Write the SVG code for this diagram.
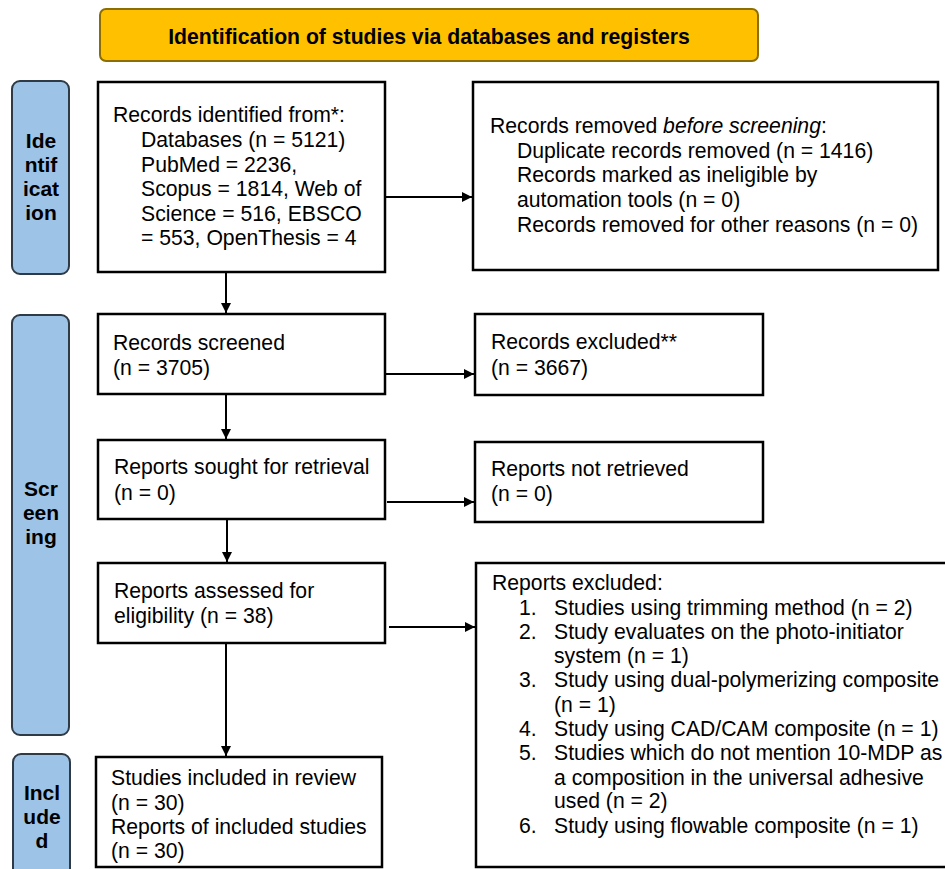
<svg xmlns="http://www.w3.org/2000/svg" width="945" height="869" viewBox="0 0 945 869">
<style>
.box{fill:#fff;stroke:#000;stroke-width:2.5}
.phase{fill:#9DC3E6;stroke:#2e3a46;stroke-width:2}
.t{font-family:"Liberation Sans",Arial,sans-serif;font-size:21.2px;fill:#000}
.pt{font-family:"Liberation Sans",Arial,sans-serif;font-size:21px;font-weight:bold;fill:#000;text-anchor:middle}
.ln{stroke:#000;stroke-width:2;fill:none}
</style>
<defs>
<marker id="ah" viewBox="0 0 10 10" refX="10" refY="5" markerWidth="10" markerHeight="10" markerUnits="userSpaceOnUse" orient="auto">
<path d="M0,0 L10,5 L0,10 z" fill="#000"/>
</marker>
</defs>
<rect width="945" height="869" fill="#fff"/>

<g id="banner">
<rect x="100" y="9" width="658" height="52" rx="6" fill="#FFC000" stroke="#8C6D00" stroke-width="2"/>
<text x="429" y="44" class="pt" style="font-size:21.2px">Identification of studies via databases and registers</text>
</g>

<g id="phase-identification">
<rect class="phase" x="12" y="81" width="57" height="193" rx="8"/>
<text class="pt"><tspan x="41" y="148">Ide</tspan><tspan x="41" y="172">ntif</tspan><tspan x="41" y="196">icat</tspan><tspan x="41" y="220">ion</tspan></text>
</g>
<g id="phase-screening">
<rect class="phase" x="12" y="315" width="57" height="420" rx="8"/>
<text class="pt"><tspan x="41" y="496">Scr</tspan><tspan x="41" y="520">een</tspan><tspan x="41" y="544">ing</tspan></text>
</g>
<g id="phase-included">
<rect class="phase" x="13" y="754" width="57" height="130" rx="8"/>
<text class="pt"><tspan x="42" y="800">Incl</tspan><tspan x="42" y="824">ude</tspan><tspan x="42" y="848">d</tspan></text>
</g>

<g id="records-identified">
<rect class="box" x="98" y="82" width="287" height="190"/>
<text class="t"><tspan x="113" y="122">Records identified from*:</tspan><tspan x="141" y="147">Databases (n = 5121)</tspan><tspan x="141" y="172">PubMed = 2236,</tspan><tspan x="141" y="196">Scopus = 1814, Web of</tspan><tspan x="141" y="221">Science = 516, EBSCO</tspan><tspan x="141" y="245">= 553, OpenThesis = 4</tspan></text>
</g>

<g id="records-removed">
<rect class="box" x="473" y="82" width="465" height="188"/>
<text class="t"><tspan x="490" y="133">Records removed <tspan font-style="italic">before screening</tspan>:</tspan><tspan x="517" y="158">Duplicate records removed (n = 1416)</tspan><tspan x="517" y="182">Records marked as ineligible by</tspan><tspan x="517" y="207">automation tools (n = 0)</tspan><tspan x="517" y="232">Records removed for other reasons (n = 0)</tspan></text>
</g>

<g id="records-screened">
<rect class="box" x="98" y="314" width="287" height="80"/>
<text class="t"><tspan x="113" y="350">Records screened</tspan><tspan x="113" y="375">(n = 3705)</tspan></text>
</g>

<g id="records-excluded">
<rect class="box" x="475" y="314" width="288" height="81"/>
<text class="t"><tspan x="491" y="349">Records excluded**</tspan><tspan x="491" y="375">(n = 3667)</tspan></text>
</g>

<g id="reports-sought">
<rect class="box" x="98" y="440" width="287" height="79"/>
<text class="t"><tspan x="114" y="474">Reports sought for retrieval</tspan><tspan x="114" y="500">(n = 0)</tspan></text>
</g>

<g id="reports-not-retrieved">
<rect class="box" x="475" y="442" width="288" height="80"/>
<text class="t"><tspan x="491" y="476">Reports not retrieved</tspan><tspan x="491" y="501">(n = 0)</tspan></text>
</g>

<g id="reports-assessed">
<rect class="box" x="98" y="563" width="287" height="80"/>
<text class="t"><tspan x="114" y="598">Reports assessed for</tspan><tspan x="114" y="623">eligibility (n = 38)</tspan></text>
</g>

<g id="reports-excluded">
<rect class="box" x="476" y="563" width="480" height="304"/>
<text class="t"><tspan x="492" y="590">Reports excluded:</tspan>
<tspan x="519" y="615">1.</tspan><tspan x="554" y="615">Studies using trimming method (n = 2)</tspan>
<tspan x="519" y="639">2.</tspan><tspan x="554" y="639">Study evaluates on the photo-initiator</tspan>
<tspan x="554" y="663">system (n = 1)</tspan>
<tspan x="519" y="687">3.</tspan><tspan x="554" y="687">Study using dual-polymerizing composite</tspan>
<tspan x="554" y="712">(n = 1)</tspan>
<tspan x="519" y="736">4.</tspan><tspan x="554" y="736">Study using CAD/CAM composite (n = 1)</tspan>
<tspan x="519" y="760">5.</tspan><tspan x="554" y="760">Studies which do not mention 10-MDP as</tspan>
<tspan x="554" y="785">a composition in the universal adhesive</tspan>
<tspan x="554" y="808">used (n = 2)</tspan>
<tspan x="519" y="833">6.</tspan><tspan x="554" y="833">Study using flowable composite (n = 1)</tspan></text>
</g>

<g id="studies-included">
<rect class="box" x="96" y="757" width="286" height="110"/>
<text class="t"><tspan x="111" y="785">Studies included in review</tspan><tspan x="111" y="810">(n = 30)</tspan><tspan x="111" y="834">Reports of included studies</tspan><tspan x="111" y="858">(n = 30)</tspan></text>
</g>

<g id="connectors">
<line class="ln" x1="385" y1="197" x2="472" y2="197" marker-end="url(#ah)"/>
<line class="ln" x1="226" y1="272" x2="226" y2="313" marker-end="url(#ah)"/>
<line class="ln" x1="385" y1="374" x2="474" y2="374" marker-end="url(#ah)"/>
<line class="ln" x1="226" y1="394" x2="226" y2="439" marker-end="url(#ah)"/>
<line class="ln" x1="387" y1="502" x2="474" y2="502" marker-end="url(#ah)"/>
<line class="ln" x1="227" y1="519" x2="227" y2="562" marker-end="url(#ah)"/>
<line class="ln" x1="389" y1="627" x2="475" y2="627" marker-end="url(#ah)"/>
<line class="ln" x1="226" y1="643" x2="226" y2="756" marker-end="url(#ah)"/>
</g>
</svg>
